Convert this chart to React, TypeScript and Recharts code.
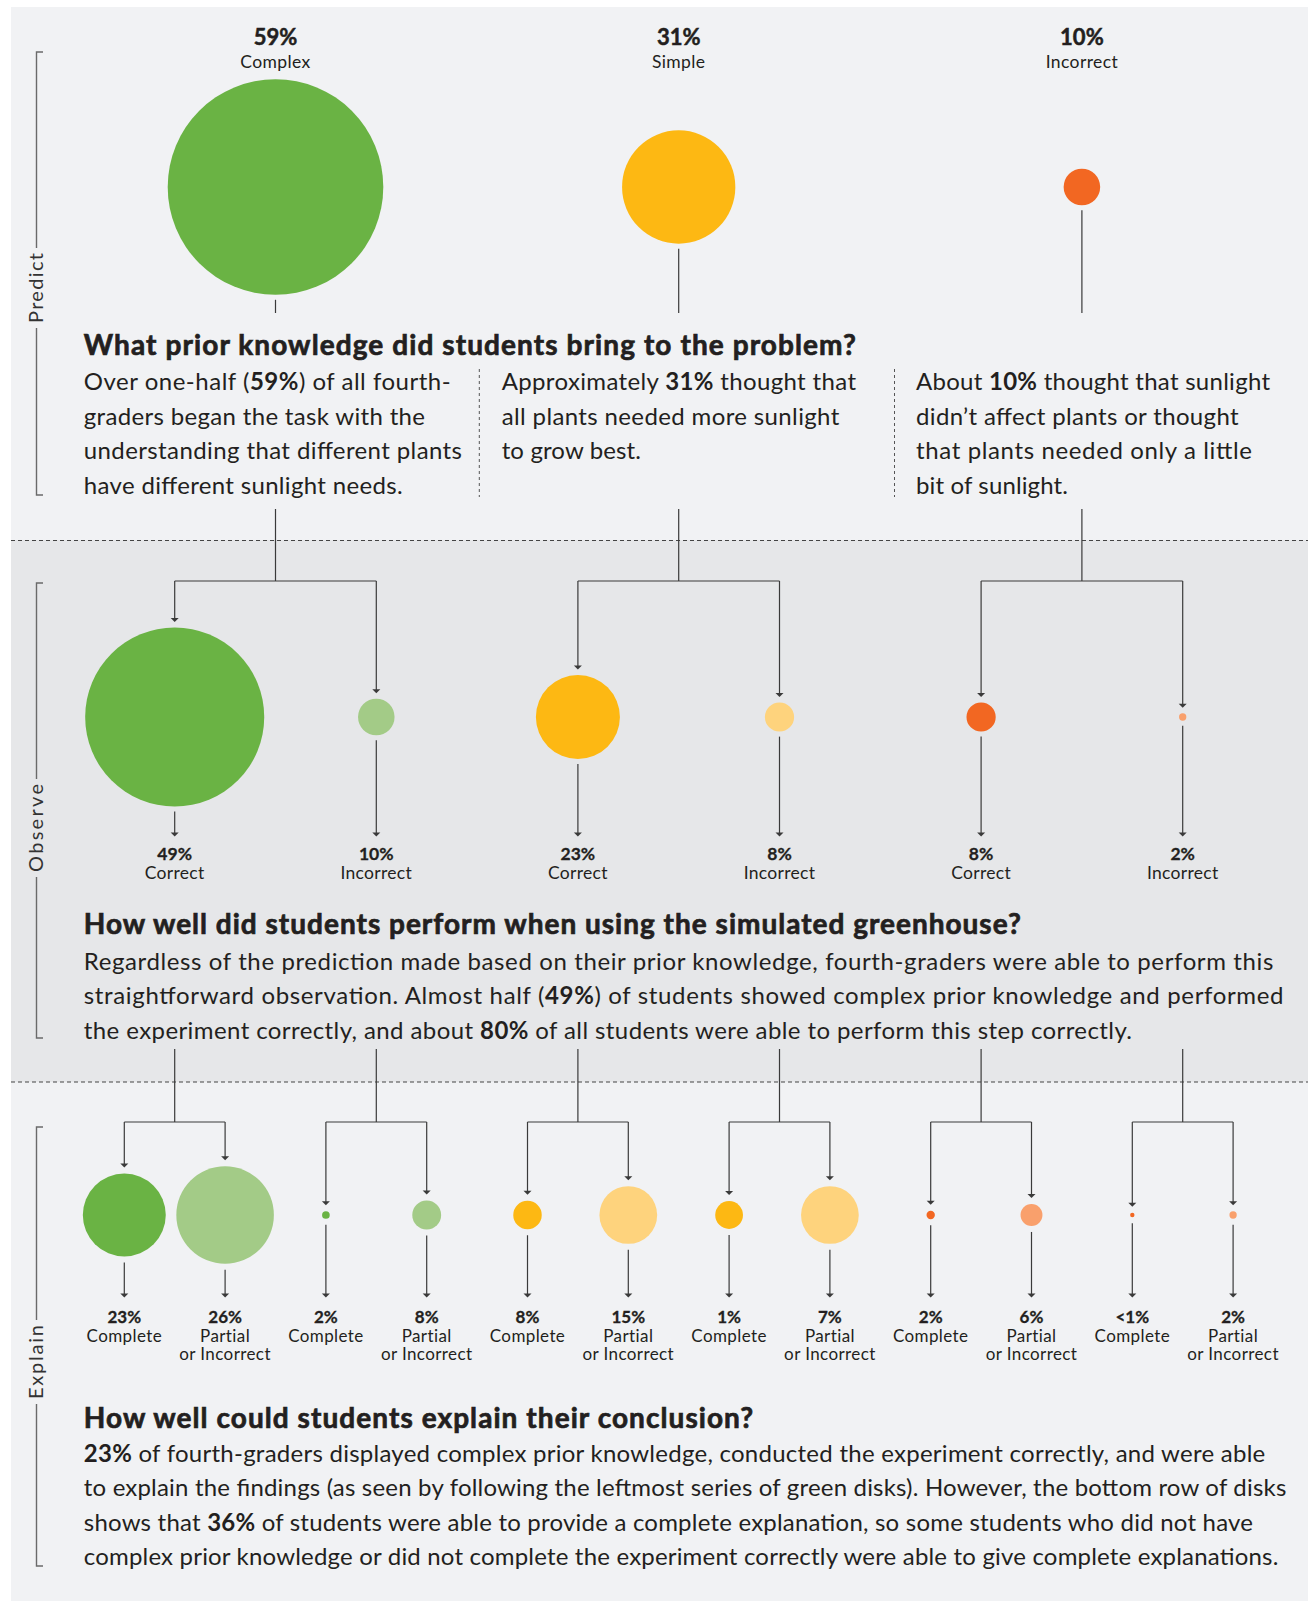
import { ScatterChart, Scatter, XAxis, YAxis, ZAxis, Cell } from 'recharts'

const W = 1308
const H = 1601

// ---- data ----
const predictPct = ['59%', '31%', '10%']
const predictNames = ['Complex', 'Simple', 'Incorrect']
const predictDisk = [59, 31, 10]

const observePct = ['49%', '10%', '23%', '8%', '8%', '2%']
const observeNames = ['Correct', 'Incorrect', 'Correct', 'Incorrect', 'Correct', 'Incorrect']
const observeDisk = [49, 10, 23, 8, 8, 2]

const explainPct = ['23%', '26%', '2%', '8%', '8%', '15%', '1%', '7%', '2%', '6%', '<1%', '2%']
const explainNames = ['Complete', 'Partial', 'Complete', 'Partial', 'Complete', 'Partial', 'Complete', 'Partial', 'Complete', 'Partial', 'Complete', 'Partial']
// disk sizes as drawn in the picture (not always the printed label)
const explainDisk = [22.7, 26.7, 2.1, 7.9, 7.8, 15.8, 7.6, 15.8, 2.3, 6, 1.2, 2]

const predictHeading = 'What prior knowledge did students bring to the problem?'
const predictCols = [
    ['Over one-half (**59%**) of all fourth-', 'graders began the task with the', 'understanding that different plants', 'have different sunlight needs.'],
    ['Approximately **31%** thought that', 'all plants needed more sunlight', 'to grow best.'],
    ['About **10%** thought that sunlight', 'didn\u2019t affect plants or thought', 'that plants needed only a little', 'bit of sunlight.'],
]
const observeHeading = 'How well did students perform when using the simulated greenhouse?'
const observeText = [
    'Regardless of the prediction made based on their prior knowledge, fourth-graders were able to perform this',
    'straightforward observation. Almost half (**49%**) of students showed complex prior knowledge and performed',
    'the experiment correctly, and about **80%** of all students were able to perform this step correctly.',
]
const explainHeading = 'How well could students explain their conclusion?'
const explainText = [
    '**23%** of fourth-graders displayed complex prior knowledge, conducted the experiment correctly, and were able',
    'to explain the findings (as seen by following the leftmost series of green disks). However, the bottom row of disks',
    'shows that **36%** of students were able to provide a complete explanation, so some students who did not have',
    'complex prior knowledge or did not complete the experiment correctly were able to give complete explanations.',
]

// ---- layout ----
const SLOT0 = 124.3
const SLOT_W = 100.8
const R_PER_PCT = 1.827
const ROW_Y = { predict: 187, observe: 717, explain: 1215 }
const DARK = ['#6ab344', '#fdb813', '#f26722']
const LIGHT = ['#a3cb87', '#fed37d', '#f9a06c']
const INK = '#231f20'
const LINE = '#3a3a3a'
const FONT = 'Lato, "Noto Sans", sans-serif'

const px = (slot: number) => SLOT0 + SLOT_W * slot
const rad = (v: number) => v * R_PER_PCT

const predictData = predictDisk.map((v, k) => ({ slot: 4 * k + 1.5, y: ROW_Y.predict, z: v * v, fill: DARK[k] }))
const observeData = observeDisk.map((v, j) => ({
    slot: 2 * j + 0.5, y: ROW_Y.observe, z: v * v, fill: j % 2 ? LIGHT[Math.floor(j / 2)] : DARK[Math.floor(j / 2)],
}))
const explainData = explainDisk.map((v, i) => ({
    slot: i, y: ROW_Y.explain, z: v * v, fill: i % 2 ? LIGHT[Math.floor(i / 4)] : DARK[Math.floor(i / 4)],
}))

const Arrow = ({ x, y }: { x: number, y: number }) => (
    <polygon points={`${x - 4},${y - 3.5} ${x + 4},${y - 3.5} ${x},${y + 0.5}`} fill={LINE} />
)

const VLine = ({ x, y1, y2, arrow }: { x: number, y1: number, y2: number, arrow?: boolean }) => (
    <g>
        <line x1={x} x2={x} y1={y1} y2={arrow ? y2 - 2 : y2} stroke={LINE} strokeWidth={1.2} />
        {arrow && <Arrow x={x} y={y2} />}
    </g>
)

const RichLine = ({ x, y, text, size, width, weight = 400, heavy = false }: any) => (
    <text x={x} y={y} fontSize={size} fontWeight={weight} fill={INK}
        stroke={heavy ? INK : undefined} strokeWidth={heavy ? 0.7 : undefined}
        textLength={width} lengthAdjust='spacing'>
        {String(text).split('**').map((p, i) => (
            <tspan key={i} fontWeight={i % 2 ? 700 : undefined}>{p}</tspan>
        ))}
    </text>
)

const Bracket = ({ label, top, bottom, mid, len }: { label: string, top: number, bottom: number, mid: number, len: number }) => {
    const x = 36.5
    return (
        <g stroke='#6a6a6a' strokeWidth={1.4} fill='none'>
            <polyline points={`${x + 6.5},${top} ${x},${top} ${x},${mid - len / 2 - 5}`} />
            <polyline points={`${x},${mid + len / 2 + 5} ${x},${bottom} ${x + 6.5},${bottom}`} />
            <text x={0} y={0} transform={`translate(${x + 6.5},${mid}) rotate(-90)`} textAnchor='middle'
                fontSize={20} fill='#333' stroke='none' textLength={len} lengthAdjust='spacing'>{label}</text>
        </g>
    )
}

const Annotations = () => {
    const predictLineX = [83.8, 501.7, 916]
    const predictWidths = [[366.9, 341.2, 378.2, 318.8], [354.3, 337.6, 139.3], [354, 322.6, 336, 152]]
    const observeWidths = [1189.5, 1199.7, 1048.2]
    const explainWidths = [1181.5, 1202.5, 1169.2, 1194.5]
    return (
        <g fontFamily={FONT}>
            {/* band separators */}
            <line x1={11} x2={W} y1={540.5} y2={540.5} stroke='#444' strokeWidth={1.2} strokeDasharray='4 3' />
            <line x1={11} x2={W} y1={1082} y2={1082} stroke='#444' strokeWidth={1.2} strokeDasharray='4 3' />
            <line x1={479.3} x2={479.3} y1={369} y2={497} stroke='#555' strokeDasharray='3 3' />
            <line x1={894.5} x2={894.5} y1={369} y2={497} stroke='#555' strokeDasharray='3 3' />

            <Bracket label='Predict' top={52} bottom={495} mid={288} len={70} />
            <Bracket label='Observe' top={583} bottom={1038} mid={828} len={88} />
            <Bracket label='Explain' top={1127} bottom={1566} mid={1362} len={74} />

            {/* predict row labels and connectors */}
            {predictDisk.map((v, k) => {
                const x = px(4 * k + 1.5)
                const l = px(4 * k + 0.5)
                const r = px(4 * k + 2.5)
                return (
                    <g key={k}>
                        <text x={x} y={45} textAnchor='middle' fontSize={22} fontWeight={700} fill={INK}
                            stroke={INK} strokeWidth={0.5}>{predictPct[k]}</text>
                        <text x={x} y={68} textAnchor='middle' fontSize={17.5} fill={INK} letterSpacing={0.4}>{predictNames[k]}</text>
                        <VLine x={x} y1={ROW_Y.predict + rad(v) + 5} y2={313} />
                        <VLine x={x} y1={509} y2={581} />
                        <line x1={l} x2={r} y1={581} y2={581} stroke={LINE} strokeWidth={1.2} />
                        <VLine x={l} y1={581} y2={ROW_Y.observe - rad(observeDisk[2 * k]) - 6} arrow />
                        <VLine x={r} y1={581} y2={ROW_Y.observe - rad(observeDisk[2 * k + 1]) - 6} arrow />
                    </g>
                )
            })}

            {/* observe row */}
            {observeDisk.map((v, j) => {
                const x = px(2 * j + 0.5)
                const l = px(2 * j)
                const r = px(2 * j + 1)
                return (
                    <g key={j}>
                        <VLine x={x} y1={ROW_Y.observe + rad(v) + 5} y2={836} arrow />
                        <text x={x} y={860} textAnchor='middle' fontSize={17.5} fontWeight={700} fill={INK}
                            stroke={INK} strokeWidth={0.3}>{observePct[j]}</text>
                        <text x={x} y={878.5} textAnchor='middle' fontSize={17.5} fill={INK} letterSpacing={0.3}>{observeNames[j]}</text>
                        <VLine x={x} y1={1049} y2={1122} />
                        <line x1={l} x2={r} y1={1122} y2={1122} stroke={LINE} strokeWidth={1.2} />
                        <VLine x={l} y1={1122} y2={ROW_Y.explain - rad(explainDisk[2 * j]) - 6.5} arrow />
                        <VLine x={r} y1={1122} y2={ROW_Y.explain - rad(explainDisk[2 * j + 1]) - 6.5} arrow />
                    </g>
                )
            })}

            {/* explain row */}
            {explainDisk.map((v, i) => {
                const x = px(i)
                return (
                    <g key={i}>
                        <VLine x={x} y1={ROW_Y.explain + rad(v) + 6} y2={1297} arrow />
                        <text x={x} y={1322.7} textAnchor='middle' fontSize={17} fontWeight={700} fill={INK}
                            stroke={INK} strokeWidth={0.3}>{explainPct[i]}</text>
                        <text x={x} y={1341.5} textAnchor='middle' fontSize={17} fill={INK} letterSpacing={0.4}>{explainNames[i]}</text>
                        {i % 2 === 1 && (
                            <text x={x} y={1360} textAnchor='middle' fontSize={17} fill={INK} letterSpacing={0.4}>or Incorrect</text>
                        )}
                    </g>
                )
            })}

            {/* headings and paragraphs */}
            <RichLine x={83.8} y={355} text={predictHeading} size={28} weight={700} width={772} heavy />
            {predictCols.map((col, c) => col.map((t, i) => (
                <RichLine key={`${c}-${i}`} x={predictLineX[c]} y={390 + i * 34.6} text={t} size={24} width={predictWidths[c][i]} />
            )))}

            <RichLine x={83.8} y={934} text={observeHeading} size={28} weight={700} width={937} heavy />
            {observeText.map((t, i) => (
                <RichLine key={i} x={83.8} y={970 + i * 34.4} text={t} size={24} width={observeWidths[i]} />
            ))}

            <RichLine x={83.8} y={1428} text={explainHeading} size={28} weight={700} width={669.4} heavy />
            {explainText.map((t, i) => (
                <RichLine key={i} x={83.8} y={1462 + i * 34.4} text={t} size={24} width={explainWidths[i]} />
            ))}
        </g>
    )
}

export default function App() {
    return (
        <div style={{ position: 'absolute', left: 0, top: 0, width: W, height: H, fontFamily: FONT }}>
            <div style={{ position: 'absolute', left: 11, top: 7, width: W - 11, height: H - 7, background: '#f1f2f4' }} />
            <div style={{ position: 'absolute', left: 11, top: 540, width: W - 11, height: 542, background: '#e6e7e9' }} />
            <div style={{ position: 'absolute', left: 0, top: 0 }}>
                <ScatterChart width={W} height={H} margin={{ top: 0, right: 0, bottom: 0, left: 0 }}>
                    <XAxis type='number' dataKey='slot' hide allowDataOverflow
                        domain={[-SLOT0 / SLOT_W, (W - SLOT0) / SLOT_W]} />
                    <YAxis type='number' dataKey='y' hide allowDataOverflow reversed domain={[0, H]} />
                    <ZAxis type='number' dataKey='z' domain={[0, 59 * 59]}
                        range={[0, Math.PI * rad(59) * rad(59)]} />
                    <Annotations />
                    <Scatter data={predictData} isAnimationActive={false}>
                        {predictData.map((d, i) => <Cell key={i} fill={d.fill} />)}
                    </Scatter>
                    <Scatter data={observeData} isAnimationActive={false}>
                        {observeData.map((d, i) => <Cell key={i} fill={d.fill} />)}
                    </Scatter>
                    <Scatter data={explainData} isAnimationActive={false}>
                        {explainData.map((d, i) => <Cell key={i} fill={d.fill} />)}
                    </Scatter>
                </ScatterChart>
            </div>
        </div>
    )
}
